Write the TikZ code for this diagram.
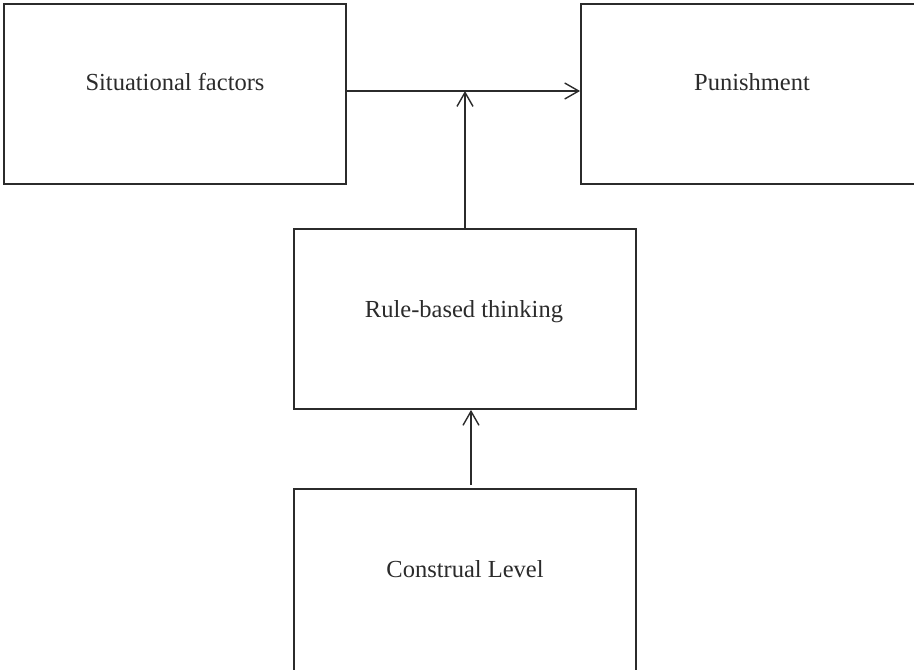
\documentclass[tikz,border=0pt]{standalone}
\usepackage{fontspec}
\setmainfont{Liberation Serif}
\usetikzlibrary{arrows.meta,calc}
\definecolor{ink}{HTML}{2B2B2B}
\begin{document}
\begin{tikzpicture}[x=1pt,y=-1pt,
  box/.style={draw=ink,line width=1.8pt,rectangle,minimum width=342pt,minimum height=180pt,inner sep=0pt},
  lbl/.style={anchor=base,inner sep=0pt,text=ink,font=\fontsize{24.5pt}{28pt}\selectfont},
  conn/.style={draw=ink,line width=1.4pt,-{Straight Barb[length=14pt,width=16pt,line width=1.4pt]}}]
\useasboundingbox (0,0) rectangle (914,670);
\node[box] (sit) at (175,94) {};
\node[box,minimum width=350pt] (pun) at (756,94) {};
\node[box] (rule) at (465,319) {};
\node[box,minimum height=192pt] (con) at (465,585) {};
\node[lbl] (sitl) at (175,90) {Situational factors};
\node[lbl] (punl) at (752,90) {Punishment};
\node[lbl] (rulel) at (464,317) {Rule-based thinking};
\node[lbl] (conl) at (465,577) {Construal Level};
\coordinate (j) at (465,91);
\coordinate (k) at (471,485);
\draw[conn] (sit.east |- j) -- (pun.west |- j);
\draw[conn] (rule.north -| j) -- (j);
\draw[conn] (k) -- (rule.south -| k);
\end{tikzpicture}
\end{document}
